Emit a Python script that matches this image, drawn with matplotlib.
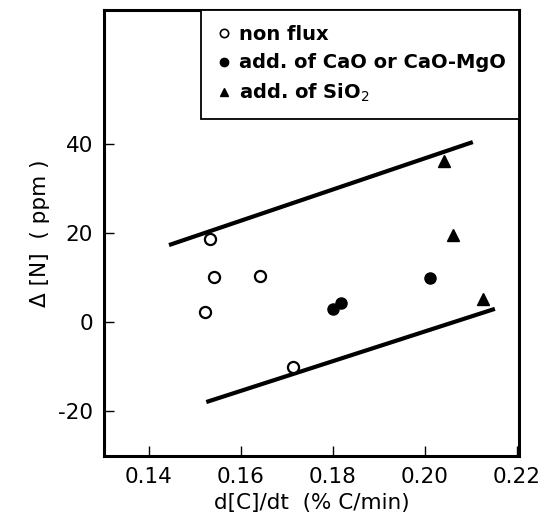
import numpy as np
import matplotlib
matplotlib.use('Agg')
import matplotlib.pyplot as plt
from matplotlib.lines import Line2D

plt.rcParams['axes.unicode_minus'] = False

# data
non_flux_x = [0.1533, 0.1542, 0.1522, 0.1642, 0.1713]
non_flux_y = [18.7, 10.1, 2.3, 10.4, -10.0]

cao_x = [0.1800, 0.1818, 0.2011]
cao_y = [3.0, 4.2, 9.9]

sio2_x = [0.2042, 0.2061, 0.2127]
sio2_y = [36.2, 19.6, 5.2]

upper_x = [0.1444, 0.2104]
upper_y = [17.3, 40.4]
lower_x = [0.1525, 0.2152]
lower_y = [-17.9, 3.0]

xticks = [0.14, 0.16, 0.18, 0.20, 0.22]
xticklabels = ['0.14', '0.16', '0.18', '0.20', '0.22']
yticks = [-20, 0, 20, 40]

fs = 15.5

fig = plt.figure(figsize=(5.45, 5.29), dpi=100)
ax = fig.add_axes([0.191, 0.138, 0.761, 0.843])

ax.plot(upper_x, upper_y, color='k', linewidth=3, solid_capstyle='butt')
ax.plot(lower_x, lower_y, color='k', linewidth=3, solid_capstyle='butt')

ax.plot(non_flux_x, non_flux_y, 'o', mfc='white', mec='k', mew=1.6, ms=8, linestyle='none')
ax.plot(cao_x, cao_y, 'o', color='k', ms=8, linestyle='none')
ax.plot(sio2_x, sio2_y, '^', color='k', ms=8, linestyle='none')

ax.set_xlim(0.1303, 0.2204)
ax.set_ylim(-30, 70)
ax.set_xticks(xticks)
ax.set_xticklabels(xticklabels)
ax.set_yticks(yticks)
ax.tick_params(direction='in', length=7, width=1, labelsize=fs, pad=8)
for s in ax.spines.values():
    s.set_linewidth(2.2)

ax.set_xlabel('d[C]/dt  (% C/min)', fontsize=fs, labelpad=4)
ax.set_ylabel('Δ [N]  ( ppm )', fontsize=fs, labelpad=6)

handles = [
    Line2D([], [], marker='o', mfc='white', mec='k', mew=1.2, ms=6, linestyle='none'),
    Line2D([], [], marker='o', color='k', ms=6, linestyle='none'),
    Line2D([], [], marker='^', color='k', ms=6, linestyle='none'),
]
labels = ['non flux', 'add. of CaO or CaO-MgO', 'add. of SiO$_2$']
leg = ax.legend(handles, labels, loc='upper left', mode='expand',
                bbox_to_anchor=(0.234, 0.751, 0.766, 0.249), borderaxespad=0,
                fancybox=False, framealpha=1, edgecolor='k',
                prop={'weight': 'bold', 'size': 14}, handlelength=0.8,
                handletextpad=0.4, labelspacing=0.5, borderpad=0.75)
leg.get_frame().set_linewidth(1.3)

fig.savefig('out.png', dpi=100)
